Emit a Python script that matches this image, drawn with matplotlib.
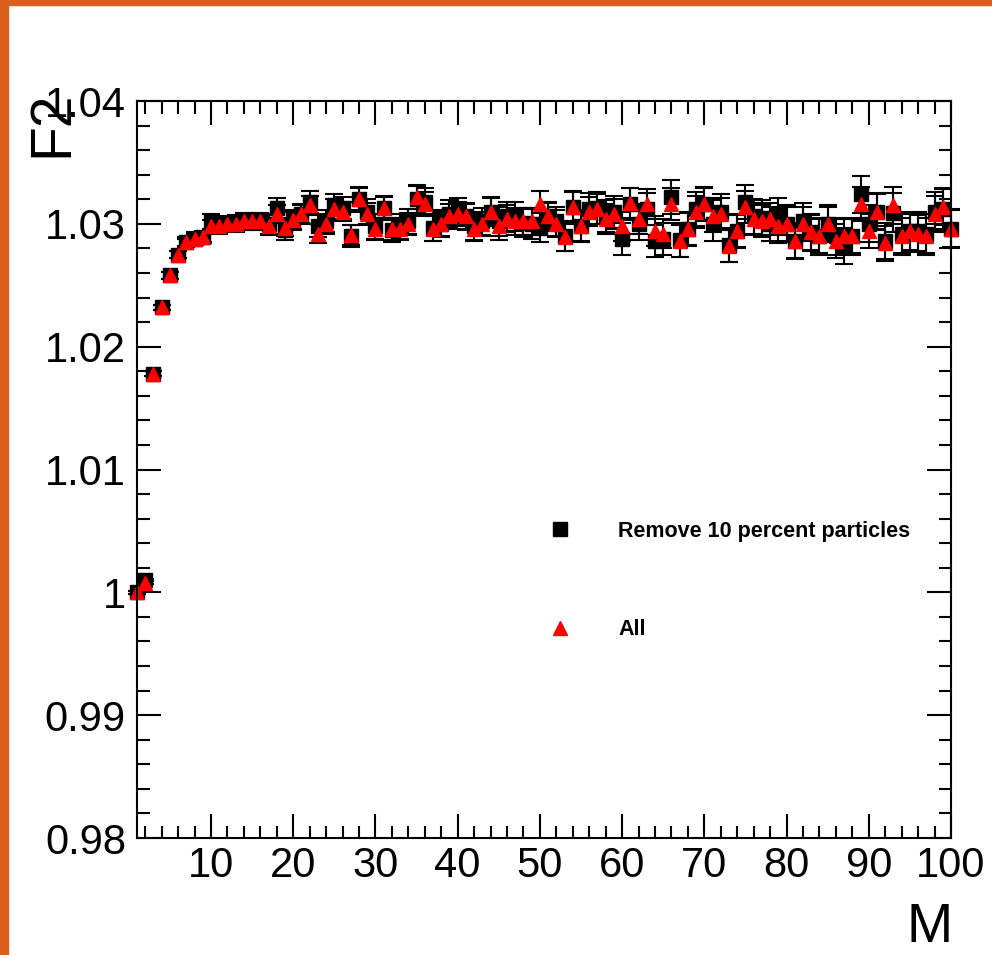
import matplotlib
matplotlib.use('Agg')
import matplotlib.pyplot as plt
from matplotlib.lines import Line2D
from matplotlib.patches import Rectangle
from matplotlib.ticker import MultipleLocator, FuncFormatter

plt.rcParams['font.family'] = ['Liberation Sans', 'DejaVu Sans']

# M = 1 .. 100
m_values = list(range(1, 101))

f2_remove = [
    1.0000, 1.0010, 1.0178, 1.0232, 1.0258, 1.0275, 1.0285, 1.0288, 1.0289, 1.0302,
    1.0298, 1.0300, 1.0300, 1.0302, 1.0302, 1.0302, 1.0300, 1.0313, 1.0295, 1.0303,
    1.0308, 1.0318, 1.0298, 1.0302, 1.0315, 1.0313, 1.0290, 1.0320, 1.0310, 1.0298,
    1.0313, 1.0295, 1.0298, 1.0302, 1.0320, 1.0318, 1.0297, 1.0300, 1.0308, 1.0310,
    1.0306, 1.0298, 1.0302, 1.0310, 1.0302, 1.0306, 1.0306, 1.0301, 1.0300, 1.0297,
    1.0306, 1.0302, 1.0290, 1.0314, 1.0298, 1.0312, 1.0313, 1.0306, 1.0310, 1.0288,
    1.0316, 1.0300, 1.0312, 1.0286, 1.0288, 1.0322, 1.0287, 1.0296, 1.0312, 1.0316,
    1.0300, 1.0310, 1.0283, 1.0294, 1.0318, 1.0306, 1.0305, 1.0300, 1.0306, 1.0300,
    1.0286, 1.0302, 1.0293, 1.0290, 1.0300, 1.0290, 1.0282, 1.0290, 1.0324, 1.0300,
    1.0310, 1.0286, 1.0309, 1.0292, 1.0294, 1.0294, 1.0292, 1.0310, 1.0312, 1.0296,
]
err_remove = [
    0.0001, 0.0001, 0.0002, 0.0002, 0.0003, 0.0003, 0.0004, 0.0005, 0.0005, 0.0006,
    0.0006, 0.0006, 0.0007, 0.0007, 0.0007, 0.0007, 0.0008, 0.0008, 0.0008, 0.0008,
    0.0008, 0.0009, 0.0009, 0.0009, 0.0009, 0.0009, 0.0009, 0.0010, 0.0010, 0.0010,
    0.0010, 0.0010, 0.0010, 0.0010, 0.0011, 0.0011, 0.0011, 0.0011, 0.0011, 0.0011,
    0.0011, 0.0011, 0.0011, 0.0012, 0.0012, 0.0012, 0.0012, 0.0012, 0.0012, 0.0012,
    0.0012, 0.0012, 0.0012, 0.0013, 0.0013, 0.0013, 0.0013, 0.0013, 0.0013, 0.0013,
    0.0013, 0.0013, 0.0013, 0.0013, 0.0013, 0.0014, 0.0014, 0.0014, 0.0014, 0.0014,
    0.0014, 0.0014, 0.0014, 0.0014, 0.0014, 0.0014, 0.0014, 0.0014, 0.0015, 0.0015,
    0.0015, 0.0015, 0.0015, 0.0015, 0.0015, 0.0015, 0.0015, 0.0015, 0.0015, 0.0015,
    0.0015, 0.0015, 0.0016, 0.0016, 0.0016, 0.0016, 0.0016, 0.0016, 0.0016, 0.0016,
]

f2_all = [
    1.0000, 1.0008, 1.0178, 1.0232, 1.0258, 1.0275, 1.0285, 1.0288, 1.0289, 1.0298,
    1.0298, 1.0300, 1.0300, 1.0302, 1.0302, 1.0302, 1.0298, 1.0308, 1.0297, 1.0303,
    1.0308, 1.0315, 1.0292, 1.0300, 1.0312, 1.0310, 1.0291, 1.0320, 1.0308, 1.0296,
    1.0313, 1.0296, 1.0296, 1.0300, 1.0322, 1.0316, 1.0296, 1.0300, 1.0306, 1.0308,
    1.0306, 1.0296, 1.0300, 1.0310, 1.0298, 1.0304, 1.0302, 1.0302, 1.0302, 1.0316,
    1.0306, 1.0300, 1.0289, 1.0314, 1.0298, 1.0310, 1.0312, 1.0304, 1.0308, 1.0298,
    1.0317, 1.0304, 1.0316, 1.0294, 1.0292, 1.0316, 1.0286, 1.0296, 1.0310, 1.0316,
    1.0306, 1.0308, 1.0282, 1.0294, 1.0314, 1.0304, 1.0302, 1.0304, 1.0298, 1.0300,
    1.0286, 1.0300, 1.0293, 1.0290, 1.0300, 1.0286, 1.0290, 1.0290, 1.0316, 1.0294,
    1.0310, 1.0284, 1.0315, 1.0290, 1.0294, 1.0292, 1.0290, 1.0308, 1.0314, 1.0296,
]
err_all = [
    0.0001, 0.0001, 0.0002, 0.0002, 0.0003, 0.0003, 0.0003, 0.0004, 0.0004, 0.0005,
    0.0005, 0.0005, 0.0006, 0.0006, 0.0006, 0.0006, 0.0007, 0.0007, 0.0007, 0.0007,
    0.0007, 0.0008, 0.0008, 0.0008, 0.0008, 0.0008, 0.0008, 0.0009, 0.0009, 0.0009,
    0.0009, 0.0009, 0.0009, 0.0009, 0.0010, 0.0010, 0.0010, 0.0010, 0.0010, 0.0010,
    0.0010, 0.0010, 0.0010, 0.0011, 0.0011, 0.0011, 0.0011, 0.0011, 0.0011, 0.0011,
    0.0011, 0.0011, 0.0011, 0.0012, 0.0012, 0.0012, 0.0012, 0.0012, 0.0012, 0.0012,
    0.0012, 0.0012, 0.0012, 0.0012, 0.0012, 0.0013, 0.0013, 0.0013, 0.0013, 0.0013,
    0.0013, 0.0013, 0.0013, 0.0013, 0.0013, 0.0013, 0.0013, 0.0013, 0.0014, 0.0014,
    0.0014, 0.0014, 0.0014, 0.0014, 0.0014, 0.0014, 0.0014, 0.0014, 0.0014, 0.0014,
    0.0014, 0.0014, 0.0015, 0.0015, 0.0015, 0.0015, 0.0015, 0.0015, 0.0015, 0.0015,
]

labels = ["Remove 10 percent particles", "All"]

fig = plt.figure(figsize=(9.92, 9.55), dpi=100)

# orange slide frame on the top and left edge
border = '#dc5f1d'
fig.patches.append(Rectangle((0, 0), 8 / 992, 1, transform=fig.transFigure, color=border, zorder=10))
fig.patches.append(Rectangle((0, 1 - 5 / 955), 1, 5 / 955, transform=fig.transFigure, color=border, zorder=10))

ax = fig.add_axes([137 / 992, 117 / 955, 814 / 992, 737 / 955])

ax.errorbar(m_values, f2_remove, yerr=err_remove, fmt='s', color='black', ms=10,
            ecolor='black', elinewidth=1.5, capsize=6.5, capthick=1.5, clip_on=False)
ax.errorbar(m_values, f2_all, yerr=err_all, fmt='^', mfc='red', mec='red', ms=10,
            ecolor='black', elinewidth=1.5, capsize=6.5, capthick=1.5, clip_on=False)

ax.set_xlim(1, 100)
ax.set_ylim(0.98, 1.04)
ax.xaxis.set_major_locator(MultipleLocator(10))
ax.xaxis.set_minor_locator(MultipleLocator(2))
ax.yaxis.set_major_locator(MultipleLocator(0.01))
ax.yaxis.set_minor_locator(MultipleLocator(0.002))
ax.yaxis.set_major_formatter(FuncFormatter(lambda v, p: '%g' % round(v, 4)))

ax.tick_params(which='both', direction='in', top=True, right=True, width=1.5, labelsize=30)
ax.tick_params(which='major', length=17)
ax.tick_params(which='minor', length=9)
ax.tick_params(axis='y', pad=8)
ax.tick_params(axis='x', pad=6)
for s in ax.spines.values():
    s.set_linewidth(1.5)

fig.text(52 / 992, 1 - 157 / 955, 'F2', rotation=90, ha='center', va='bottom', fontsize=41)
fig.text(953 / 992, 1 - 942 / 955, 'M', ha='right', va='baseline', fontsize=40)

handles = [Line2D([], [], ls='none', marker='s', color='black', ms=10),
           Line2D([], [], ls='none', marker='^', color='red', ms=10)]
ax.legend(handles, labels, loc='upper left', bbox_to_anchor=(0.5065, 0.4305),
          frameon=False, prop={'weight': 'bold', 'size': 15.5}, handlelength=1.0,
          handletextpad=2.2, labelspacing=3.6, borderaxespad=0, borderpad=0)

fig.savefig('out.png', dpi=100)
